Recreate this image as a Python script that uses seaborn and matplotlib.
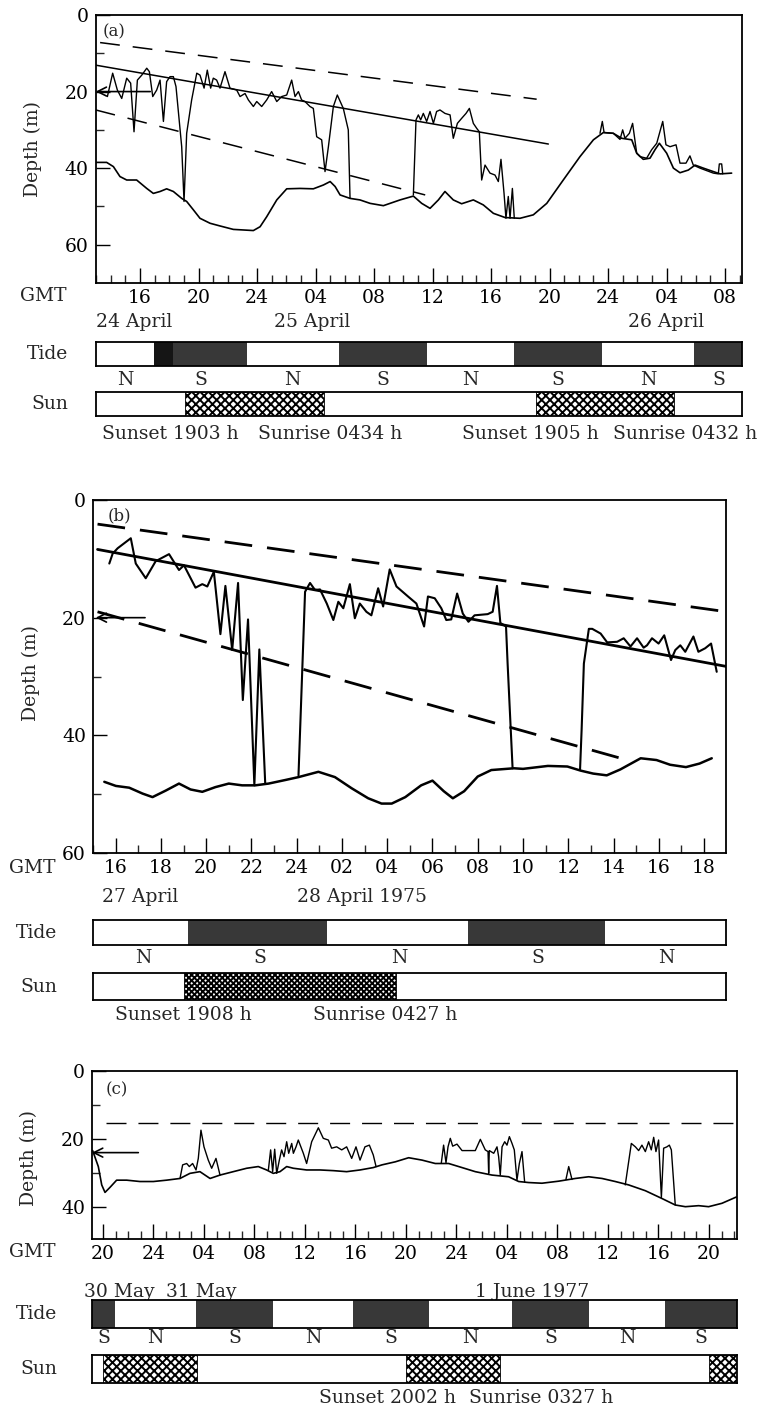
import matplotlib
matplotlib.use('Agg')
import matplotlib.pyplot as plt
import matplotlib.transforms as mtransforms
import seaborn as sns

# depth records of a tagged fish, three tracking runs (hours counted from 00 h of first day)

# ---- panel (a): 24-26 April ----
a_fish_hours = [
    [13.77, 14.13, 14.45, 14.75, 15.09, 15.36, 15.59, 15.82, 16.12, 16.46, 16.64, 16.87, 17.14, 17.37, 17.60,
     17.82, 18.05, 18.28, 18.46, 18.85, 19.01, 19.19, 19.53, 19.88, 20.10, 20.38, 20.60, 20.83, 21.01, 21.24,
     21.47, 21.81, 22.15, 22.61, 22.84, 23.18, 23.41, 23.75, 23.98, 24.32, 24.66, 25.00, 25.35, 25.69, 26.03,
     26.37, 26.60, 26.83, 27.05, 27.28, 27.62, 27.85, 28.08, 28.42, 28.65, 28.88, 29.22, 29.49, 29.90, 30.24, 30.36],
    [34.69, 34.87, 35.03, 35.19, 35.37, 35.60, 35.83, 36.06, 36.28, 36.51, 36.85, 37.20, 37.42, 37.70, 37.99,
     38.29, 38.52, 38.79, 39.02, 39.20, 39.36, 39.59, 39.93, 40.27, 40.50, 40.68, 40.89, 41.02, 41.18, 41.30,
     41.46, 41.59],
    [47.45, 47.61, 47.73, 48.36, 48.82, 49.00, 49.16, 49.46, 49.68, 49.96, 50.19, 50.64, 50.98, 51.33, 51.74,
     51.96, 52.24, 52.65, 52.92, 53.33, 53.60, 53.83, 54.29, 55.20, 55.54, 55.61, 55.77, 55.84],
]
a_fish_depth = [
    [21.3, 15.2, 19.6, 21.8, 16.5, 17.8, 30.5, 17.0, 15.7, 13.9, 14.8, 21.3, 19.6, 17.0, 27.8,
     17.4, 16.1, 16.1, 18.7, 34.4, 48.7, 30.9, 22.2, 15.2, 15.7, 19.1, 14.4, 19.1, 16.5, 17.0,
     19.1, 14.8, 19.1, 19.6, 21.3, 20.5, 22.2, 23.9, 22.6, 23.9, 22.2, 20.0, 22.6, 21.3, 20.9,
     17.0, 21.3, 20.0, 22.2, 22.6, 23.9, 24.4, 31.8, 32.6, 40.9, 34.4, 23.9, 20.9, 24.4, 30.0, 47.9],
    [47.0, 27.4, 26.1, 27.4, 25.7, 27.8, 25.2, 28.3, 25.2, 24.8, 25.7, 26.1, 32.2, 28.3, 27.0,
     25.7, 24.4, 28.3, 29.6, 30.5, 43.1, 39.2, 41.3, 41.8, 43.5, 37.7, 46.6, 53.1, 47.4, 53.1,
     45.3, 53.1],
    [30.9, 27.8, 30.7, 30.9, 32.5, 30.0, 32.2, 30.9, 28.3, 36.1, 37.0, 37.4, 35.2, 33.5, 27.8,
     33.9, 34.4, 33.9, 38.7, 38.7, 36.8, 39.2, 40.0, 41.3, 41.5, 38.9, 38.9, 41.5],
]
a_bottom_hours = [12.97, 13.72, 14.18, 14.63, 15.09, 15.77, 16.46, 16.91, 17.37, 17.82, 18.28, 18.85, 19.19,
                  19.65, 20.10, 20.79, 21.47, 22.38, 23.75, 24.21, 24.66, 25.35, 26.03, 26.94, 27.85, 28.54,
                  29.00, 29.34, 29.68, 30.36, 31.04, 31.73, 32.64, 33.78, 34.69, 35.26, 35.83, 36.40, 36.85,
                  37.42, 37.99, 38.79, 39.47, 40.16, 40.96, 41.98, 42.89, 43.81, 44.94, 46.08, 47.00, 47.68,
                  48.36, 48.93, 49.62, 49.96, 50.41, 50.87, 51.21, 51.51, 52.01, 52.47, 52.92, 53.49, 53.95,
                  54.52, 55.20, 55.66, 56.45]
a_bottom_depth = [38.5, 38.5, 39.6, 42.2, 43.1, 43.1, 45.3, 46.6, 46.1, 45.4, 46.1, 47.9, 48.7,
                  50.9, 53.1, 54.4, 55.1, 56.0, 56.3, 55.3, 52.7, 48.3, 45.4, 45.3, 45.4, 44.4,
                  43.5, 44.8, 47.0, 47.9, 48.3, 49.2, 49.8, 48.3, 47.3, 49.2, 50.5, 48.3, 46.1,
                  48.3, 49.3, 48.3, 49.6, 51.8, 52.9, 53.1, 52.2, 49.2, 43.1, 37.0, 32.6, 30.7,
                  30.9, 32.2, 32.6, 36.1, 37.7, 37.4, 35.2, 33.5, 36.1, 40.0, 41.2, 40.5, 39.2,
                  40.0, 40.9, 41.5, 41.3]
a_trend_hours = [12.97, 43.92]
a_trend_depth = [13.1, 33.7]
a_upper_hours = [13.27, 43.12]
a_upper_depth = [7.2, 22.0]
a_lower_hours = [12.97, 35.5]
a_lower_depth = [24.8, 47.0]
a_tide_dark = [(16.96, 18.24), (18.24, 23.29), (29.6, 35.6), (41.6, 47.6), (53.9, 57.2)]
a_tide_shade = ['#151515', '#383838', '#383838', '#383838', '#383838']
a_tide_edges = [12.97, 16.96, 23.29, 29.6, 35.6, 41.6, 47.6, 53.9, 57.2]
a_tide_names = ['N', 'S', 'N', 'S', 'N', 'S', 'N', 'S']
a_night = [(19 + 3 / 60, 24 + 4 + 34 / 60), (24 + 19 + 5 / 60, 48 + 4 + 32 / 60)]
a_sun_text = ['Sunset 1903 h', 'Sunrise 0434 h', 'Sunset 1905 h', 'Sunrise 0432 h']
a_sun_text_at = [18.1, 29.0, 42.7, 53.3]
a_xticks = [16, 20, 24, 28, 32, 36, 40, 44, 48, 52, 56]
a_xticklabels = ['16', '20', '24', '04', '08', '12', '16', '20', '24', '04', '08']
a_dates = ['24 April', '25 April', '26 April']
a_dates_at = [15.6, 27.8, 52.0]

# ---- panel (b): 27-28 April 1975 ----
b_fish_hours = [
    [15.72, 15.87, 16.09, 16.67, 16.89, 17.33, 17.77, 18.36, 18.80, 19.02, 19.53, 19.83, 20.05, 20.34, 20.63,
     20.85, 21.15, 21.41, 21.62, 21.85, 22.13, 22.35, 22.61],
    [24.08, 24.37, 24.59, 24.81, 25.03, 25.33, 25.62, 25.84, 26.06, 26.35, 26.57, 26.79, 27.08, 27.30, 27.60,
     27.82, 28.11, 28.41, 28.92, 29.29, 29.63, 29.80, 30.10, 30.39, 30.61, 30.83, 31.09, 31.34, 31.59, 31.86,
     32.44, 32.66, 32.85, 33.00, 33.25, 33.32, 33.54],
    [36.52, 36.59, 36.69, 36.91, 37.06, 37.43, 37.72, 38.16, 38.45, 38.75, 39.04, 39.33, 39.48, 39.70, 39.99,
     40.24, 40.54, 40.73, 40.95, 41.17, 41.53, 41.75, 42.05, 42.31, 42.56],
]
b_fish_depth = [
    [10.8, 9.1, 8.2, 6.5, 10.8, 13.3, 10.4, 9.2, 11.9, 11.1, 14.9, 14.3, 14.7, 12.2, 22.8,
     14.6, 25.5, 14.1, 34.0, 20.3, 48.5, 25.4, 48.2],
    [46.8, 15.6, 14.1, 15.3, 15.2, 17.6, 20.4, 17.3, 18.4, 14.3, 20.1, 17.6, 19.0, 19.6, 15.0,
     18.1, 11.8, 14.7, 16.4, 17.6, 21.5, 16.4, 16.7, 18.4, 20.4, 20.3, 15.9, 19.3, 20.7, 19.6,
     19.4, 19.0, 14.6, 20.9, 21.5, 27.8, 45.6],
    [45.9, 39.1, 27.8, 21.9, 21.9, 22.7, 24.2, 24.1, 23.5, 24.9, 23.5, 25.1, 24.7, 23.5, 24.4,
     23.0, 27.2, 25.5, 24.7, 25.8, 23.2, 25.8, 25.2, 24.4, 29.2],
]
b_bottom_hours = [15.50, 16.01, 16.60, 17.19, 17.63, 18.21, 18.80, 19.31, 19.83, 20.41, 21.00, 21.59, 22.17,
                  22.76, 23.49, 24.08, 24.96, 25.69, 26.43, 27.16, 27.75, 28.2, 28.8, 29.5, 30.0, 30.5, 30.9,
                  31.4, 32.0, 32.6, 33.6, 34.0, 35.1, 35.96, 36.55, 37.1, 37.7, 38.3, 39.2, 39.9, 40.5, 41.2,
                  41.8, 42.34]
b_bottom_depth = [47.9, 48.6, 48.9, 49.9, 50.5, 49.4, 48.2, 49.2, 49.6, 48.8, 48.2, 48.5, 48.5,
                  48.2, 47.6, 47.1, 46.2, 47.1, 49.0, 50.7, 51.6, 51.6, 50.5, 48.5, 47.7, 49.5, 50.7,
                  49.5, 47.0, 45.9, 45.6, 45.7, 45.2, 45.3, 46.0, 46.5, 46.8, 45.8, 43.9, 44.2, 45.0, 45.4,
                  44.8, 43.9]
b_trend_hours = [15.2, 43.0]
b_trend_depth = [8.4, 28.3]
b_upper_hours = [15.2, 43.0]
b_upper_depth = [4.1, 19.0]
b_lower_hours = [15.2, 38.6]
b_lower_depth = [19.0, 44.2]
b_tide_dark = [(19.30, 25.41), (31.62, 37.65)]
b_tide_shade = ['#383838', '#383838']
b_tide_edges = [15.12, 19.30, 25.41, 31.62, 37.65, 43.0]
b_tide_names = ['N', 'S', 'N', 'S', 'N']
b_night = [(19 + 8 / 60, 24 + 4 + 27 / 60)]
b_sun_text = ['Sunset 1908 h', 'Sunrise 0427 h']
b_sun_text_at = [19.0, 27.9]
b_xticks = list(range(16, 43, 2))
b_xticklabels = ['16', '18', '20', '22', '24', '02', '04', '06', '08', '10', '12', '14', '16', '18']
b_dates = ['27 April', '28 April 1975']
b_dates_at = [17.1, 26.9]

# ---- panel (c): 30 May - 1 June 1977 ----
c_fish_hours = [
    [26.10, 26.31, 26.63, 26.84, 27.10, 27.37, 27.55, 27.76, 28.00, 28.34, 28.61, 28.95, 29.27],
    [33.10, 33.28, 33.44, 33.60, 33.76, 33.97, 34.15, 34.34, 34.55, 34.71, 34.95, 35.08, 35.29, 35.47, 35.87,
     36.13, 36.53, 37.06, 37.45, 37.85, 38.11, 38.51, 38.91, 39.30, 39.70, 40.04, 40.36, 40.75, 41.10, 41.41,
     41.63],
    [46.80, 46.98, 47.17, 47.33, 47.51, 47.70, 48.04, 48.44, 49.49, 49.89, 50.28, 50.50, 50.55, 50.60, 50.95,
     51.21, 51.34, 51.47, 51.61, 51.82, 52.00, 52.19, 52.40, 52.58, 52.79, 52.98, 53.19, 53.40],
    [56.67, 56.89, 57.15],
    [61.37, 61.85, 62.17, 62.43, 62.69, 62.96, 63.22, 63.43, 63.62, 63.80, 64.01, 64.23, 64.41, 64.67, 64.86,
     65.02, 65.33],
]
c_fish_depth = [
    [31.6, 27.6, 27.2, 28.1, 27.2, 29.1, 25.7, 17.4, 22.3, 26.2, 28.6, 25.7, 30.6],
    [29.1, 23.2, 29.6, 23.0, 30.1, 26.2, 23.2, 25.2, 20.8, 24.2, 21.3, 24.2, 22.3, 20.3, 24.2,
     27.2, 20.8, 16.7, 19.8, 20.3, 22.7, 22.3, 23.2, 22.3, 25.7, 22.3, 26.2, 22.3, 21.8, 24.7,
     28.1],
    [27.0, 21.8, 27.0, 22.3, 19.8, 22.1, 21.5, 23.4, 23.4, 20.1, 23.2, 23.7, 30.1, 23.4, 24.2,
     22.3, 25.2, 30.6, 22.3, 20.8, 21.8, 19.3, 21.3, 23.2, 32.1, 27.2, 23.7, 32.7],
    [31.9, 28.1, 31.9],
    [33.5, 21.3, 22.3, 23.4, 21.8, 23.7, 20.8, 23.2, 19.5, 23.7, 20.3, 37.2, 22.7, 22.3, 21.8,
     23.2, 39.4],
]
c_bottom_hours = [19.18, 19.63, 19.90, 20.16, 20.56, 21.08, 21.88, 22.93, 23.99, 25.04, 26.10, 26.89, 27.68,
                  28.48, 29.27, 30.32, 31.38, 32.30, 32.96, 33.49, 34.02, 34.55, 35.08, 36.13, 37.19, 38.25,
                  39.30, 40.36, 41.41, 42.10, 43.16, 44.21, 45.27, 46.32, 47.38, 48.44, 49.49, 50.81, 52.13,
                  52.93, 53.72, 54.77, 56.09, 57.41, 58.47, 59.53, 60.58, 61.64, 62.96, 64.28, 65.33, 66.13,
                  67.18, 67.97, 69.03, 70.2]
c_bottom_depth = [23.4, 28.1, 33.5, 35.7, 34.2, 32.1, 32.1, 32.5, 32.5, 32.1, 31.6, 30.1, 29.6,
                  31.6, 30.6, 29.6, 28.6, 28.1, 29.1, 30.1, 29.6, 28.1, 28.6, 29.1, 29.1, 29.3,
                  29.6, 29.1, 28.4, 27.6, 26.7, 25.5, 26.2, 27.2, 27.2, 28.4, 29.6, 30.6, 31.1,
                  32.5, 32.8, 33.0, 32.4, 31.6, 31.1, 31.6, 32.5, 33.5, 35.2, 37.5, 39.4, 39.9,
                  39.6, 39.9, 38.9, 37.0]
c_level_hours = [20.2, 70.2]
c_level_depth = [15.4, 15.4]
c_tide_dark = [(19.13, 20.95), (27.4, 33.5), (39.8, 45.8), (52.4, 58.5), (64.5, 70.2)]
c_tide_shade = ['#383838'] * 5
c_tide_edges = [19.13, 20.95, 27.4, 33.5, 39.8, 45.8, 52.4, 58.5, 64.5, 70.2]
c_tide_names = ['S', 'N', 'S', 'N', 'S', 'N', 'S', 'N', 'S']
c_night = [(20 + 2 / 60, 24 + 3 + 27 / 60), (24 + 20 + 2 / 60, 48 + 3 + 27 / 60), (48 + 20 + 2 / 60, 70.2)]
c_sun_text = ['Sunset 2002 h', 'Sunrise 0327 h']
c_sun_text_at = [42.5, 54.7]
c_xticks = list(range(20, 69, 4))
c_xticklabels = ['20', '24', '04', '08', '12', '16', '20', '24', '04', '08', '12', '16', '20']
c_dates = ['30 May', '31 May', '1 June 1977']
c_dates_at = [21.3, 27.8, 54.0]

# ---------------------------------------------------------------
sns.set_style('white')
plt.rcParams['font.family'] = ['DejaVu Serif']
plt.rcParams['hatch.linewidth'] = 1.4

W, H = 764, 1411
FS = 13.5
fig = plt.figure(figsize=(W / 100, H / 100), dpi=100)


def px_axes(left, top, right, bottom):
    return fig.add_axes([left / W, 1 - bottom / H, (right - left) / W, (bottom - top) / H])


def fy(ypx):
    return 1 - ypx / H


def line(ax, x, y, lw, ls='-'):
    sns.lineplot(x=x, y=y, ax=ax, color='black', linewidth=lw, linestyle=ls,
                 sort=False, estimator=None)


def data_text(ax, x, ypx, s, **kw):
    tr = mtransforms.blended_transform_factory(ax.transData, fig.transFigure)
    ax.text(x, fy(ypx), s, transform=tr, ha='center', va='center', fontsize=FS, **kw)


def bar_axes(box, xlim):
    bax = px_axes(*box)
    bax.set_xlim(*xlim)
    bax.set_ylim(0, 1)
    bax.set_xticks([])
    bax.set_yticks([])
    for sp in bax.spines.values():
        sp.set_linewidth(1.3)
        sp.set_color('black')
    return bax


def panel(box, xlim, ymax, ymajor, yminor, xticks, xticklabels, xminor,
          fish_h, fish_d, bot_h, bot_d, lines, arrow, letter,
          tide_box, tide_dark, tide_shade, tide_edges, tide_names,
          sun_box, night, hatch, sun_text, sun_text_at,
          dates, dates_at, text_y, label_right, gmt_x, label_y, lw):
    ax = px_axes(*box)
    for h, d in zip(fish_h, fish_d):
        line(ax, h, d, lw['fish'])
    line(ax, bot_h, bot_d, lw['bottom'])
    for h, d, ls, w in lines:
        line(ax, h, d, w, ls)
    ax.annotate('', xy=(xlim[0], arrow[0]), xytext=(arrow[1], arrow[0]),
                arrowprops=dict(arrowstyle='->', color='black', lw=1.2,
                                shrinkA=0, shrinkB=0, mutation_scale=16))

    ax.set_xlim(*xlim)
    ax.set_ylim(ymax, 0)
    ax.set_xticks(xticks)
    ax.set_xticklabels(xticklabels)
    ax.set_xticks(xminor, minor=True)
    ax.set_yticks(ymajor)
    ax.set_yticklabels([str(v) for v in ymajor])
    ax.set_yticks(yminor, minor=True)
    ax.tick_params(axis='x', which='major', direction='in', length=11, width=1.0, pad=4,
                   labelsize=FS, bottom=True, top=False, colors='black')
    ax.tick_params(axis='x', which='minor', direction='in', length=6, width=1.0,
                   bottom=True, top=False)
    ax.tick_params(axis='y', which='major', direction='in', length=10, width=1.0, pad=5,
                   labelsize=FS, left=True, right=False, colors='black')
    ax.tick_params(axis='y', which='minor', direction='in', length=6, width=1.0,
                   left=True, right=False)
    for sp in ax.spines.values():
        sp.set_linewidth(1.3)
        sp.set_color('black')
    ax.set_xlabel('')
    ax.set_ylabel('Depth (m)', fontsize=FS)
    ax.yaxis.set_label_coords(-0.083, label_y)
    fig.text(letter[1] / W, fy(letter[2]), letter[0], fontsize=12, ha='left', va='center')

    gmt_y, date_y, ns_y, sun_y = text_y
    fig.text(gmt_x / W, fy(gmt_y), 'GMT', fontsize=FS, ha='center', va='center')
    for s, x in zip(dates, dates_at):
        data_text(ax, x, date_y, s)

    tax = bar_axes(tide_box, xlim)
    tax.broken_barh([(s, e - s) for s, e in tide_dark], (0, 1), facecolors=tide_shade,
                    edgecolor='none')
    for i, name in enumerate(tide_names):
        data_text(ax, (tide_edges[i] + tide_edges[i + 1]) / 2, ns_y, name)
    fig.text(label_right / W, fy((tide_box[1] + tide_box[3]) / 2), 'Tide', fontsize=FS,
             ha='right', va='center')

    sax = bar_axes(sun_box, xlim)
    sax.broken_barh([(s, e - s) for s, e in night], (0, 1), facecolor='white',
                    edgecolor='black', hatch=hatch, linewidth=0.6)
    fig.text(label_right / W, fy((sun_box[1] + sun_box[3]) / 2), 'Sun', fontsize=FS,
             ha='right', va='center')
    for s, x in zip(sun_text, sun_text_at):
        data_text(ax, x, sun_y, s)
    return ax


panel((95.7, 15, 742, 283), (12.97, 57.16), 70, [0, 20, 40, 60], [10, 30, 50],
      a_xticks, a_xticklabels, list(range(13, 58)),
      a_fish_hours, a_fish_depth, a_bottom_hours, a_bottom_depth,
      [(a_trend_hours, a_trend_depth, '-', 1.1),
       (a_upper_hours, a_upper_depth, (0, (13, 8.5)), 1.1),
       (a_lower_hours, a_lower_depth, (0, (13, 8.5)), 1.1)],
      (20, 16.7), ('(a)', 103, 32),
      (95.7, 341.7, 742, 366), a_tide_dark, a_tide_shade, a_tide_edges, a_tide_names,
      (95.7, 391.7, 742, 416), a_night, 'xxxx', a_sun_text, a_sun_text_at,
      a_dates, a_dates_at, (296, 322, 380, 434), 68, 43, 0.5,
      {'fish': 1.0, 'bottom': 1.2})

panel((93, 500, 726, 853), (15.12, 42.97), 60, [0, 20, 40, 60], [30, 50],
      b_xticks, b_xticklabels, list(range(15, 43, 2)),
      b_fish_hours, b_fish_depth, b_bottom_hours, b_bottom_depth,
      [(b_trend_hours, b_trend_depth, '-', 2.0),
       (b_upper_hours, b_upper_depth, (0, (10, 5.4)), 2.0),
       (b_lower_hours, b_lower_depth, (0, (10, 5.4)), 2.0)],
      (20, 17.3), ('(b)', 108, 516),
      (93, 920, 726, 945), b_tide_dark, b_tide_shade, b_tide_edges, b_tide_names,
      (93, 973, 726, 1000), b_night, 'xxxxxx', b_sun_text, b_sun_text_at,
      b_dates, b_dates_at, (868, 897, 958, 1015), 57, 32, 0.51,
      {'fish': 1.5, 'bottom': 1.8})

panel((92, 1071, 737, 1239), (19.13, 70.22), 49.4, [0, 20, 40], [10, 30],
      c_xticks, c_xticklabels, list(range(20, 71)),
      c_fish_hours, c_fish_depth, c_bottom_hours, c_bottom_depth,
      [(c_level_hours, c_level_depth, (0, (14.4, 8.6)), 1.0)],
      (24.0, 22.8), ('(c)', 106, 1090),
      (92, 1300, 737, 1328), c_tide_dark, c_tide_shade, c_tide_edges, c_tide_names,
      (92, 1355, 737, 1383), c_night, 'xxxx', c_sun_text, c_sun_text_at,
      c_dates, c_dates_at, (1252, 1292, 1338, 1398), 57, 32, 0.48,
      {'fish': 1.0, 'bottom': 1.2})

fig.savefig('out.png', dpi=100)
